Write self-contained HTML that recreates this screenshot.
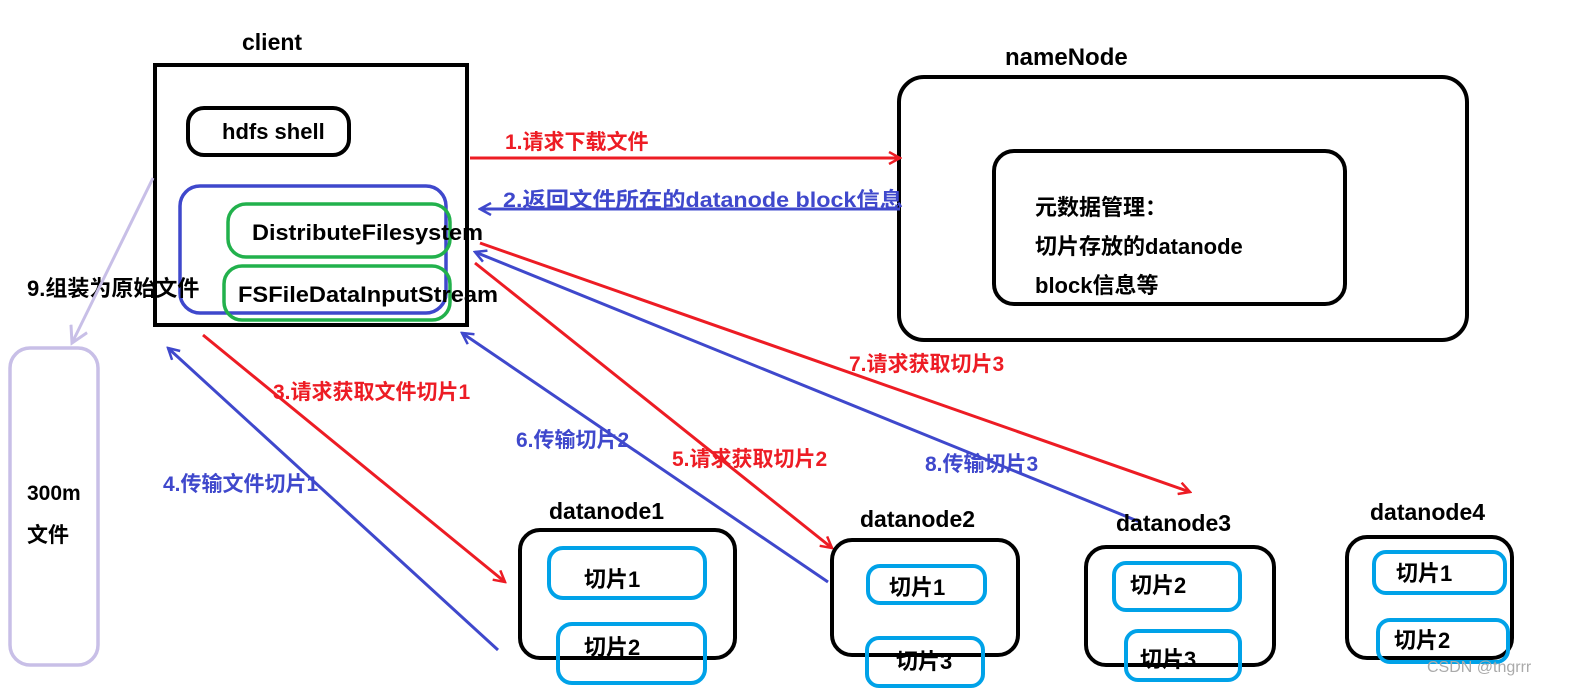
<!DOCTYPE html>
<html><head><meta charset="utf-8"><style>
body{margin:0;background:#fff}
svg text{font-family:"Liberation Sans","Noto Sans CJK SC",sans-serif;font-weight:bold}
</style></head><body>
<svg width="1585" height="689" viewBox="0 0 1585 689" xmlns="http://www.w3.org/2000/svg">
<defs>
<marker id="r" markerWidth="14" markerHeight="14" refX="12" refY="7" orient="auto" markerUnits="userSpaceOnUse"><path d="M1,1 L12,7 L1,13" fill="none" stroke="#ed1c24" stroke-width="2.5"/></marker>
<marker id="b" markerWidth="14" markerHeight="14" refX="12" refY="7" orient="auto" markerUnits="userSpaceOnUse"><path d="M1,1 L12,7 L1,13" fill="none" stroke="#3f48cc" stroke-width="2.5"/></marker>
<marker id="l" markerWidth="20" markerHeight="20" refX="17" refY="10" orient="auto" markerUnits="userSpaceOnUse"><path d="M1,1 L17,10 L1,19" fill="none" stroke="#c8bfe7" stroke-width="3"/></marker>
</defs>
<!-- client -->
<text x="242" y="50" font-size="23">client</text>
<rect x="155" y="65" width="312" height="260" fill="none" stroke="#000" stroke-width="4"/>
<rect x="188" y="108" width="161" height="47" rx="16" fill="none" stroke="#000" stroke-width="4"/>
<text x="222" y="139" font-size="22">hdfs shell</text>
<rect x="180" y="186" width="266" height="127" rx="20" fill="none" stroke="#3f48cc" stroke-width="3.5"/>
<rect x="228" y="204" width="222" height="53" rx="18" fill="none" stroke="#22b14c" stroke-width="3.5"/>
<text x="252" y="240" font-size="22" textLength="231" lengthAdjust="spacingAndGlyphs">DistributeFilesystem</text>
<rect x="224" y="266" width="226" height="54" rx="18" fill="none" stroke="#22b14c" stroke-width="3.5"/>
<text x="238" y="302" font-size="22" textLength="260" lengthAdjust="spacingAndGlyphs">FSFileDataInputStream</text>
<text x="27" y="296" font-size="22">9.组装为原始文件</text>
<line x1="153" y1="178" x2="72" y2="343" stroke="#c8bfe7" stroke-width="3" marker-end="url(#l)"/>
<rect x="10" y="348" width="88" height="317" rx="20" fill="none" stroke="#c8bfe7" stroke-width="3.5"/>
<text x="27" y="500" font-size="21">300m</text>
<text x="27" y="542" font-size="21">文件</text>
<!-- nameNode -->
<text x="1005" y="65" font-size="24">nameNode</text>
<rect x="899" y="77" width="568" height="263" rx="25" fill="none" stroke="#000" stroke-width="4"/>
<rect x="994" y="151" width="351" height="153" rx="20" fill="none" stroke="#000" stroke-width="4"/>
<text x="1035" y="215" font-size="22">元数据管理：</text>
<text x="1035" y="254" font-size="22">切片存放的datanode</text>
<text x="1035" y="293" font-size="22">block信息等</text>
<!-- arrows -->
<line x1="470" y1="158" x2="900" y2="158" stroke="#ed1c24" stroke-width="3" marker-end="url(#r)"/>
<text x="505" y="149" font-size="21" fill="#ed1c24">1.请求下载文件</text>
<line x1="900" y1="209" x2="480" y2="209" stroke="#3f48cc" stroke-width="3" marker-end="url(#b)"/>
<text x="503" y="207" font-size="21" fill="#3f48cc" textLength="400" lengthAdjust="spacingAndGlyphs">2.返回文件所在的datanode block信息</text>
<line x1="203" y1="335" x2="505" y2="582" stroke="#ed1c24" stroke-width="3" marker-end="url(#r)"/>
<text x="273" y="399" font-size="21" fill="#ed1c24">3.请求获取文件切片1</text>
<line x1="498" y1="650" x2="168" y2="348" stroke="#3f48cc" stroke-width="3" marker-end="url(#b)"/>
<text x="163" y="491" font-size="21" fill="#3f48cc">4.传输文件切片1</text>
<line x1="475" y1="263" x2="832" y2="548" stroke="#ed1c24" stroke-width="3" marker-end="url(#r)"/>
<text x="672" y="466" font-size="21" fill="#ed1c24">5.请求获取切片2</text>
<line x1="828" y1="582" x2="462" y2="333" stroke="#3f48cc" stroke-width="3" marker-end="url(#b)"/>
<text x="516" y="447" font-size="21" fill="#3f48cc">6.传输切片2</text>
<line x1="480" y1="243" x2="1190" y2="492" stroke="#ed1c24" stroke-width="3" marker-end="url(#r)"/>
<text x="849" y="371" font-size="21" fill="#ed1c24">7.请求获取切片3</text>
<line x1="1140" y1="522" x2="475" y2="252" stroke="#3f48cc" stroke-width="3" marker-end="url(#b)"/>
<text x="925" y="471" font-size="21" fill="#3f48cc">8.传输切片3</text>
<!-- datanodes -->
<g fill="none" stroke-width="4">
<rect x="520" y="530" width="215" height="128" rx="20" stroke="#000"/>
<rect x="549" y="548" width="156" height="50" rx="14" stroke="#00a2e8"/>
<rect x="558" y="624" width="147" height="59" rx="14" stroke="#00a2e8"/>
<rect x="832" y="540" width="186" height="115" rx="20" stroke="#000"/>
<rect x="868" y="566" width="117" height="37" rx="12" stroke="#00a2e8"/>
<rect x="867" y="638" width="116" height="48" rx="12" stroke="#00a2e8"/>
<rect x="1086" y="547" width="188" height="118" rx="20" stroke="#000"/>
<rect x="1114" y="563" width="126" height="47" rx="12" stroke="#00a2e8"/>
<rect x="1126" y="631" width="114" height="49" rx="12" stroke="#00a2e8"/>
<rect x="1347" y="537" width="165" height="121" rx="20" stroke="#000"/>
<rect x="1374" y="552" width="131" height="41" rx="12" stroke="#00a2e8"/>
<rect x="1378" y="620" width="130" height="42" rx="12" stroke="#00a2e8"/>
</g>
<g font-size="23">
<text x="549" y="519">datanode1</text>
<text x="860" y="527">datanode2</text>
<text x="1116" y="531">datanode3</text>
<text x="1370" y="520">datanode4</text>
</g>
<g font-size="22">
<text x="584" y="587">切片1</text>
<text x="584" y="655">切片2</text>
<text x="889" y="595">切片1</text>
<text x="896" y="669">切片3</text>
<text x="1130" y="593">切片2</text>
<text x="1140" y="667">切片3</text>
<text x="1396" y="581">切片1</text>
<text x="1394" y="648">切片2</text>
</g>
<text x="1427" y="672" font-size="16" fill="#aaa" style="font-weight:normal">CSDN @tngrrr</text>
</svg>
</body></html>
